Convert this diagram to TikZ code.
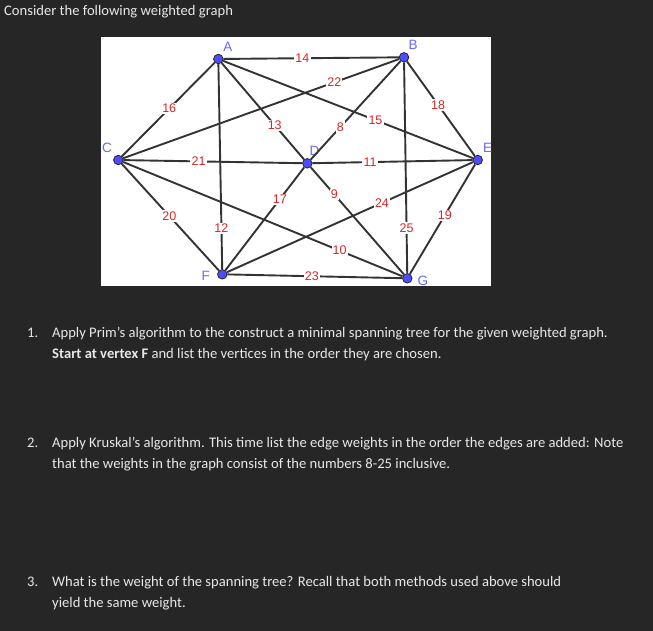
\documentclass[tikz,border=0pt]{standalone}
\usepackage{fontspec}
\setmainfont{Carlito}
\newfontfamily\ggbfont{Liberation Sans}
\usepackage{xcolor}
\usepackage{tikz}
\usetikzlibrary{positioning}

\definecolor{bgdark}{RGB}{38,38,38}
\definecolor{txtgray}{RGB}{232,232,232}
\definecolor{vblue}{RGB}{77,77,255}
\definecolor{wtred}{RGB}{214,40,40}

\tikzset{
    vtx/.style={circle,draw=black!85,fill=vblue,minimum size=9.5pt,inner sep=0pt,line width=0.8pt},
    vlab/.style={text=vblue!85,font=\ggbfont\fontsize{13.5}{13.5}\selectfont,inner sep=1pt},
    wt/.style={fill=white,text=wtred,inner sep=1.2pt,font=\ggbfont\fontsize{12.5}{12.5}\selectfont},
    edge/.style={draw=black!80,line width=1.9pt},
    qtext/.style={anchor=base west,text=txtgray,inner sep=0pt,font=\fontsize{14.6}{14.6}\selectfont}
}

\begin{document}
\begin{tikzpicture}[x=1pt,y=-1pt]
    \fill[bgdark] (0,0) rectangle (653,631);
    \useasboundingbox (0,0) rectangle (653,631);
    \fill[white] (101,37) rectangle (491,286);

    \node[qtext] (title) at (4,16) {Consider the following weighted graph};

    \node[vtx,label={[vlab,label distance=2pt]58:A}] (A) at (218.3,59) {};
    \node[vtx,label={[vlab,label distance=2pt]62:B}] (B) at (404,57.3) {};
    \node[vtx,label={[vlab,label distance=3pt]130:C}] (C) at (118.3,160) {};
    \node[vtx,label={[vlab,label distance=2pt]80:D}] (D) at (307.3,163.3) {};
    \node[vtx,label={[vlab,label distance=2pt]55:E}] (E) at (477.7,160) {};
    \node[vtx,label={[vlab,label distance=6pt,yshift=-2pt]left:F}] (F) at (222.3,274.3) {};
    \node[vtx,label={[vlab,label distance=4pt,yshift=-3pt]right:G}] (G) at (407.3,278.3) {};

    \draw[edge] (A) -- node[wt,pos=0.45] {14} (B);
    \draw[edge] (A) -- node[wt,pos=0.80] {12} (F);
    \draw[edge] (A) -- node[wt,pos=0.645] {13} (D);
    \draw[edge] (A) -- node[wt,pos=0.61] {15} (E);
    \draw[edge] (A) -- node[wt,pos=0.49] {16} (C);
    \draw[edge] (C) -- node[wt,pos=0.765] {22} (B);
    \draw[edge] (D) -- node[wt,pos=0.33] {8} (B);
    \draw[edge] (B) -- node[wt,pos=0.786] {25} (G);
    \draw[edge] (B) -- node[wt,pos=0.46] {18} (E);
    \draw[edge] (C) -- node[wt,pos=0.42] {21} (D);
    \draw[edge] (C) -- node[wt,pos=0.49] {20} (F);
    \draw[edge] (C) -- node[wt,pos=0.775] {10} (G);
    \draw[edge] (D) -- node[wt,pos=0.36] {11} (E);
    \draw[edge] (D) -- node[wt,pos=0.31] {17} (F);
    \draw[edge] (D) -- node[wt,pos=0.255] {9} (G);
    \draw[edge] (E) -- node[wt,pos=0.37] {24} (F);
    \draw[edge] (E) -- node[wt,pos=0.464] {19} (G);
    \draw[edge] (F) -- node[wt,pos=0.483] {23} (G);

    % questions
    \node[qtext] (q1n) at (27,337) {1.};
    \node[qtext] (q1a) at (52,337) {Apply Prim’s algorithm to the construct a minimal spanning tree for the given weighted graph.};
    \node[qtext] (q1b) at (52,358) {\textbf{Start at vertex F} and list the vertices in the order they are chosen.};
    \node[qtext] (q2n) at (27,447) {2.};
    \node[qtext] (q2a) at (52,447) {Apply Kruskal’s algorithm. This time list the edge weights in the order the edges are added: Note};
    \node[qtext] (q2b) at (52,468) {that the weights in the graph consist of the numbers 8-25 inclusive.};
    \node[qtext] (q3n) at (27,586) {3.};
    \node[qtext] (q3a) at (52,586) {What is the weight of the spanning tree? Recall that both methods used above should};
    \node[qtext] (q3b) at (52,607) {yield the same weight.};
\end{tikzpicture}
\end{document}
